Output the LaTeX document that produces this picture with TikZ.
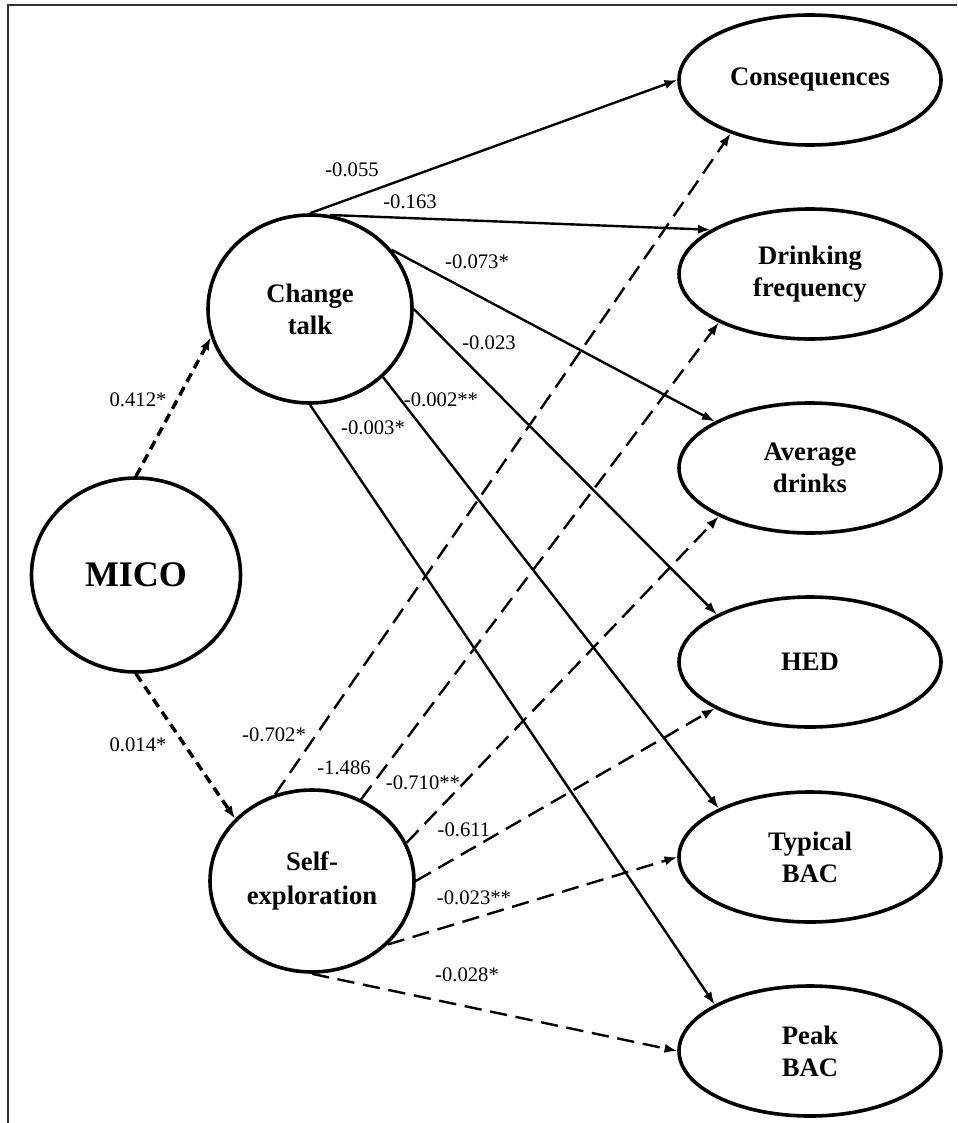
\documentclass[tikz,border=0pt]{standalone}
\usepackage{fontspec}
\setmainfont{Liberation Serif}
\usetikzlibrary{shapes.geometric,arrows.meta}
\begin{document}
\begin{tikzpicture}[x=0.75pt,y=-0.75pt,
  latent/.style={ellipse,draw,line width=2.7pt,inner sep=0pt,align=center,
    font=\fontsize{20}{24}\selectfont\bfseries},
  outcome/.style={latent,minimum width=196.5pt,minimum height=97.5pt},
  solidpath/.style={line width=1.8pt,-{Latex[length=9.5pt,width=7pt]}},
  dashpath/.style={solidpath,dash pattern=on 13pt off 6.5pt},
  micopath/.style={line width=2.6pt,dash pattern=on 7pt off 4.5pt,-{Latex[length=9.5pt,width=7pt]}},
  coef/.style={font=\fontsize{15.5}{17}\selectfont,inner sep=1pt}]
\useasboundingbox (0,0) rectangle (957,1123);
% frame
\draw[line width=1.6pt,black!80] (8,1123) -- (8,5) -- (957,5);

% latent nodes
\node[latent,minimum width=153pt,minimum height=141pt] (ct) at (310,309) {Change\\talk};
\node[latent,minimum width=156.75pt,minimum height=145.5pt,font=\fontsize{27}{30}\selectfont\bfseries] (mico) at (136,575) {MICO};
\node[latent,minimum width=153pt,minimum height=136.5pt,font=\fontsize{20}{26}\selectfont\bfseries] (se) at (312,881) {Self-\\exploration};

% outcomes
\node[outcome] (cons) at (810,80) {Consequences};
\node[outcome] (df) at (810,274) {Drinking\\frequency};
\node[outcome] (ad) at (810,468) {Average\\drinks};
\node[outcome] (hed) at (810,662) {HED};
\node[outcome] (tb) at (810,857) {Typical\\BAC};
\node[outcome] (pb) at (810,1051) {Peak\\BAC};

% MICO paths
\draw[micopath] (mico.90) -- (ct.196);
\draw[micopath] (mico.-90) -- (se.141);

% change talk paths
\draw[solidpath] (ct.90) -- (cons.180);
\draw[solidpath] (ct.78) -- (df.156);
\draw[solidpath] (ct.36) -- (ad.154);
\draw[solidpath] (ct.0) -- (hed.153);
\draw[solidpath] (ct.-43) -- (tb.152);
\draw[solidpath] (ct.-90) -- (pb.154);

% self-exploration paths
\draw[dashpath] (se.113) -- (cons.214);
\draw[dashpath] (se.59) -- (df.208);
\draw[dashpath] (se.22) -- (ad.208);
\draw[dashpath] (se.0) -- (hed.206);
\draw[dashpath] (se.-40) -- (tb.180);
\draw[dashpath] (se.-90) -- (pb.180);

% coefficients
\node[coef] (c1) at (352,170) {-0.055};
\node[coef] (c2) at (410,202) {-0.163};
\node[coef] (c3) at (477,262) {-0.073*};
\node[coef] (c4) at (489,343) {-0.023};
\node[coef] (c5) at (441,400) {-0.002**};
\node[coef] (c6) at (373,428) {-0.003*};
\node[coef] (c7) at (138,400) {0.412*};
\node[coef] (c8) at (138,745) {0.014*};
\node[coef] (c9) at (274,735) {-0.702*};
\node[coef] (c10) at (344,768) {-1.486};
\node[coef] (c11) at (423,783) {-0.710**};
\node[coef] (c12) at (464,830) {-0.611};
\node[coef] (c13) at (474,898) {-0.023**};
\node[coef] (c14) at (467,975) {-0.028*};
\end{tikzpicture}
\end{document}
